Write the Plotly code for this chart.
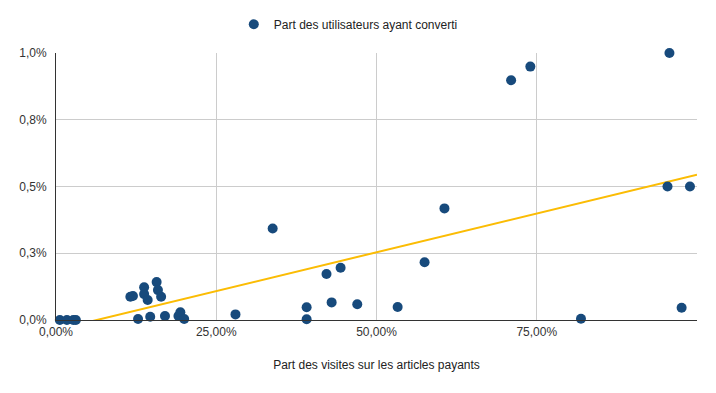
import numpy as np
import plotly.graph_objects as go

# Part des visites sur les articles payants (fraction)
visites_payantes = [0.006, 0.017, 0.027, 0.031, 0.116, 0.120, 0.1375, 0.1375, 0.143,
                    0.157, 0.159, 0.164, 0.128, 0.147, 0.170, 0.191, 0.194, 0.200,
                    0.280, 0.338, 0.391, 0.391, 0.422, 0.444, 0.430, 0.470, 0.533,
                    0.575, 0.606, 0.710, 0.740, 0.957, 0.954, 0.989, 0.976, 0.819]
# Part des utilisateurs ayant converti (in %)
conversion_pct = [0.0, 0.0, 0.0, 0.0, 0.087, 0.090, 0.1225, 0.097, 0.075,
                  0.142, 0.112, 0.087, 0.004, 0.012, 0.015, 0.015, 0.029, 0.004,
                  0.021, 0.343, 0.048, 0.003, 0.172, 0.196, 0.066, 0.059, 0.049,
                  0.216, 0.418, 0.898, 0.949, 1.0, 0.5, 0.5, 0.046, 0.005]

x_tickvals = [0, 0.25, 0.5, 0.75, 1.0]
x_ticktext = ["0,00%", "25,00%", "50,00%", "75,00%", ""]
y_tickvals = [0, 0.0025, 0.005, 0.0075, 0.01]
y_ticktext = ["0,0%", "0,3%", "0,5%", "0,8%", "1,0%"]

x = np.array(visites_payantes)
y = np.array(conversion_pct) / 100.0

slope, intercept = np.polyfit(x, y, 1)
xt = np.array([0.0, 1.0])
yt = slope * xt + intercept

fig = go.Figure()
fig.add_trace(go.Scatter(
    x=xt, y=yt, mode="lines", showlegend=False, hoverinfo="skip",
    line=dict(color="#fbbc04", width=2)))
fig.add_trace(go.Scatter(
    x=x, y=y, mode="markers", name="Part des utilisateurs ayant converti",
    marker=dict(color="#174a7c", size=10), cliponaxis=False))

fig.update_layout(
    width=708, height=385,
    margin=dict(l=48, r=19, t=45, b=73, autoexpand=False),
    paper_bgcolor="white", plot_bgcolor="white",
    font=dict(family="Liberation Sans, Arial, sans-serif", size=12, color="#333333"),
    showlegend=True,
    legend=dict(orientation="h", x=0.456, xanchor="center", y=1.108, yanchor="middle",
                font=dict(size=12, color="#222222")),
    xaxis=dict(range=[0, 1.0], tickvals=x_tickvals, ticktext=x_ticktext,
               showgrid=True, gridcolor="#cccccc", gridwidth=1,
               showline=True, linecolor="#333333", linewidth=1,
               zeroline=False, ticks="", ticklabelstandoff=1, automargin=False,
               title=dict(text="Part des visites sur les articles payants",
                          font=dict(size=12, color="#222222"), standoff=22)),
    yaxis=dict(range=[0, 0.01], tickvals=y_tickvals, ticktext=y_ticktext,
               showgrid=True, gridcolor="#cccccc", gridwidth=1,
               showline=True, linecolor="#333333", linewidth=1,
               zeroline=False, ticks="", ticklabelstandoff=6, automargin=False),
)

fig.write_html("out.html")
